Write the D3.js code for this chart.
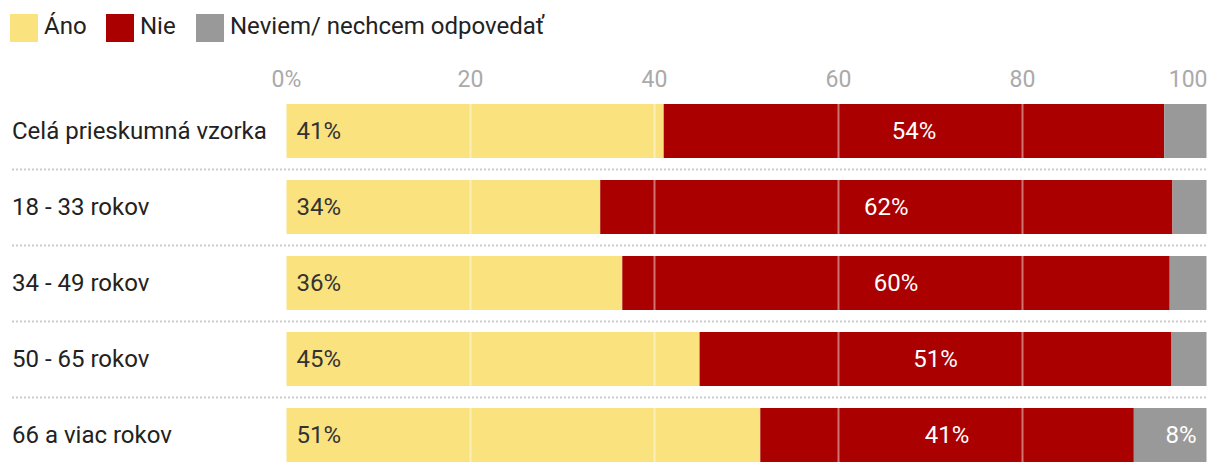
<!DOCTYPE html>
<html><head><meta charset="utf-8">
<script src="https://cdn.jsdelivr.net/npm/d3@7"></script>
<style>
body{margin:0;background:#fff;font-family:Roboto,"Noto Sans",sans-serif;}
svg{display:block}
</style></head>
<body>
<svg id="chart" width="1220" height="474"></svg>
<script>
const categories = ["Celá prieskumná vzorka","18 - 33 rokov","34 - 49 rokov","50 - 65 rokov","66 a viac rokov"];
const seriesNames = ["Áno","Nie","Neviem/ nechcem odpovedať"];
const ano = [41.0, 34.1, 36.5, 44.9, 51.5];
const nie = [54.4, 62.2, 59.5, 51.3, 40.6];
const neviem = [4.6, 3.7, 4.0, 3.8, 7.9];
const anoLabels = ["41%","34%","36%","45%","51%"];
const nieLabels = ["54%","62%","60%","51%","41%"];
const neviemLabels = ["","","","","8%"];
const tickValues = [0,20,40,60,80,100];
const tickLabels = ["0%","20","40","60","80","100"];
const colors = ["#FAE27F","#AA0000","#999999"];

const svg = d3.select("#chart");
const x = d3.scaleLinear().domain([0,100]).range([286.5,1206.5]);
const y = d3.scaleBand().domain(categories).range([104, 462]).paddingInner(22/76).paddingOuter(0);
const rows = categories.map((c,i)=>({cat:c, vals:[ano[i],nie[i],neviem[i]], labels:[anoLabels[i],nieLabels[i],neviemLabels[i]]}));

// legend
const legendX = [10, 106, 196];
seriesNames.forEach((s,i)=>{
  svg.append("rect").attr("x",legendX[i]).attr("y",14).attr("width",28).attr("height",28).attr("fill",colors[i]);
  svg.append("text").attr("x",legendX[i]+34).attr("y",34).attr("font-size",24).attr("fill","#222").text(s);
});

// ticks
tickValues.forEach((t,i)=>{
  const last = i===tickValues.length-1;
  svg.append("text").attr("x",last ? x(t)+1 : x(t)).attr("y",87).attr("font-size",23).attr("fill","#aaaaaa")
    .attr("text-anchor", last ? "end" : "middle").text(tickLabels[i]);
});

// separators
categories.slice(0,-1).forEach((c,i)=>{
  const yy = y(c)+y.bandwidth()+11.5;
  svg.append("line").attr("x1",12).attr("x2",1206).attr("y1",yy).attr("y2",yy)
    .attr("stroke","#cccccc").attr("stroke-width",2).attr("stroke-dasharray","2,2");
});

// bars
rows.forEach(r=>{
  let cum = 0;
  const g = svg.append("g");
  r.vals.forEach((v,j)=>{
    g.append("rect").attr("x",x(cum)).attr("y",y(r.cat)).attr("width",x(cum+v)-x(cum)).attr("height",y.bandwidth()).attr("fill",colors[j]);
    cum += v;
  });
  svg.append("text").attr("x",12).attr("y",y(r.cat)+y.bandwidth()/2+8).attr("font-size",24).attr("fill","#222").text(r.cat);
});

// gridlines over bars
tickValues.slice(1,-1).forEach(t=>{
  rows.forEach(r=>{
    svg.append("line").attr("x1",x(t)).attr("x2",x(t)).attr("y1",y(r.cat)).attr("y2",y(r.cat)+y.bandwidth())
      .attr("stroke","rgba(255,255,255,0.45)").attr("stroke-width",2);
  });
});

// value labels
rows.forEach(r=>{
  const cy = y(r.cat)+y.bandwidth()/2+8;
  svg.append("text").attr("x",x(0)+10).attr("y",cy).attr("font-size",24).attr("fill","#333").text(r.labels[0]);
  svg.append("text").attr("x",(x(r.vals[0])+x(r.vals[0]+r.vals[1]))/2).attr("y",cy).attr("text-anchor","middle")
    .attr("font-size",24).attr("fill","#fff").text(r.labels[1]);
  if(r.labels[2]) svg.append("text").attr("x",x(100)-10).attr("y",cy).attr("text-anchor","end")
    .attr("font-size",24).attr("fill","#fff").text(r.labels[2]);
});
</script>
</body></html>
